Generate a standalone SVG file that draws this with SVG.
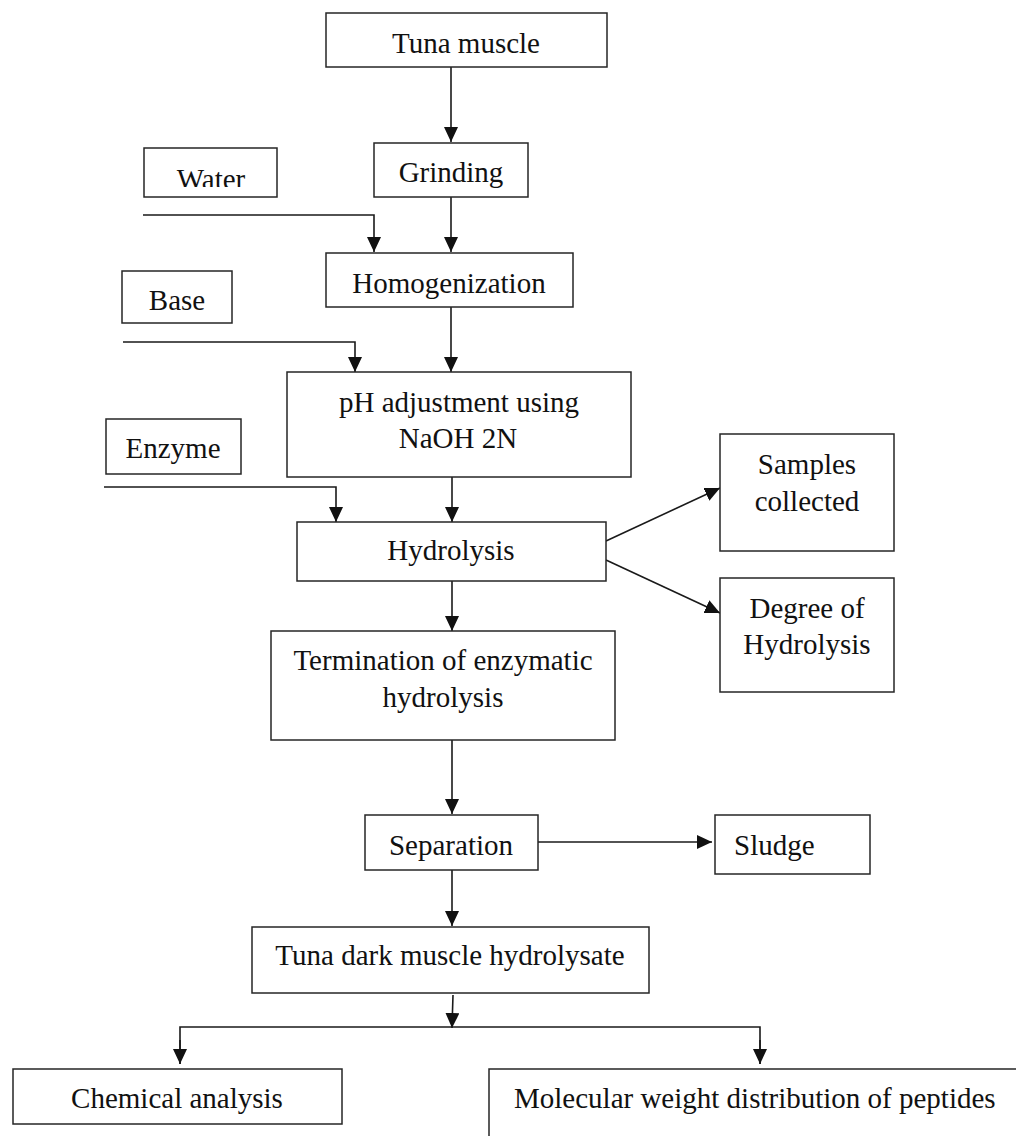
<svg xmlns="http://www.w3.org/2000/svg" width="1016" height="1136" viewBox="0 0 1016 1136">
<style>
.box{fill:#fff;stroke:#262626;stroke-width:1.5}
.t{font-family:"Liberation Serif","Times New Roman",serif;font-size:29px;fill:#111;text-anchor:middle}
.tl{text-anchor:start}
.c{fill:none;stroke:#1a1a1a;stroke-width:1.6}
</style>
<defs>
<marker id="ah" markerUnits="userSpaceOnUse" markerWidth="16" markerHeight="14" refX="15" refY="7" orient="auto">
<path d="M0,0 L15,7 L0,14 Z" fill="#111"/>
</marker>
<clipPath id="wclip"><rect x="144" y="148" width="134" height="39"/></clipPath>
</defs>
<rect width="1016" height="1136" fill="#fff"/>
<g id="connectors">
<line class="c" x1="451" y1="67" x2="451" y2="142" marker-end="url(#ah)"/>
<line class="c" x1="451" y1="197" x2="451" y2="252" marker-end="url(#ah)"/>
<polyline class="c" points="143,215 374,215 374,252" marker-end="url(#ah)"/>
<line class="c" x1="451" y1="307" x2="451" y2="372" marker-end="url(#ah)"/>
<polyline class="c" points="123,342 355,342 355,372" marker-end="url(#ah)"/>
<line class="c" x1="452" y1="477" x2="452" y2="522" marker-end="url(#ah)"/>
<polyline class="c" points="104,487 336,487 336,522" marker-end="url(#ah)"/>
<line class="c" x1="606" y1="541" x2="720" y2="488" marker-end="url(#ah)"/>
<line class="c" x1="606" y1="560" x2="720" y2="613" marker-end="url(#ah)"/>
<line class="c" x1="452" y1="579" x2="452" y2="631" marker-end="url(#ah)"/>
<line class="c" x1="452" y1="740" x2="452" y2="814" marker-end="url(#ah)"/>
<line class="c" x1="538" y1="842" x2="712" y2="842" stroke-width="2.6" marker-end="url(#ah)"/>
<line class="c" x1="452" y1="870" x2="452" y2="926" marker-end="url(#ah)"/>
<line class="c" x1="453" y1="995" x2="452" y2="1028" marker-end="url(#ah)"/>
<polyline class="c" points="180,1064 180,1027 760,1027 760,1064" fill="none"/>
<line class="c" x1="180" y1="1040" x2="180" y2="1064" marker-end="url(#ah)"/>
<line class="c" x1="760" y1="1040" x2="760" y2="1064" marker-end="url(#ah)"/>
</g>
<g id="n-tuna"><rect class="box" x="326" y="13" width="281" height="54"/><text class="t" x="466" y="53">Tuna muscle</text></g>
<g id="n-grinding"><rect class="box" x="374" y="143" width="154" height="54"/><text class="t" x="451" y="182">Grinding</text></g>
<g id="n-water"><rect class="box" x="144" y="148" width="133" height="49"/><text class="t" x="211" y="189" clip-path="url(#wclip)">Water</text></g>
<g id="n-homog"><rect class="box" x="326" y="253" width="247" height="54"/><text class="t" x="449" y="293">Homogenization</text></g>
<g id="n-base"><rect class="box" x="122" y="271" width="110" height="52"/><text class="t" x="177" y="310">Base</text></g>
<g id="n-ph"><rect class="box" x="287" y="372" width="344" height="105"/><text class="t" x="459" y="412">pH adjustment using</text><text class="t" x="458" y="448">NaOH 2N</text></g>
<g id="n-enzyme"><rect class="box" x="106" y="419" width="135" height="55"/><text class="t" x="173" y="458">Enzyme</text></g>
<g id="n-hydrolysis"><rect class="box" x="297" y="522" width="309" height="59"/><text class="t" x="451" y="560">Hydrolysis</text></g>
<g id="n-samples"><rect class="box" x="720" y="434" width="174" height="117"/><text class="t" x="807" y="474">Samples</text><text class="t" x="807" y="511">collected</text></g>
<g id="n-degree"><rect class="box" x="720" y="578" width="174" height="114"/><text class="t" x="807" y="618">Degree of</text><text class="t" x="807" y="654">Hydrolysis</text></g>
<g id="n-termination"><rect class="box" x="271" y="631" width="344" height="109"/><text class="t" x="443" y="670">Termination of enzymatic</text><text class="t" x="443" y="707">hydrolysis</text></g>
<g id="n-separation"><rect class="box" x="365" y="815" width="173" height="55"/><text class="t" x="451" y="855">Separation</text></g>
<g id="n-sludge"><rect class="box" x="715" y="815" width="155" height="59"/><text class="t tl" x="734" y="855">Sludge</text></g>
<g id="n-tdmh"><rect class="box" x="252" y="927" width="397" height="66"/><text class="t" x="450" y="965">Tuna dark muscle hydrolysate</text></g>
<g id="n-chem"><rect class="box" x="13" y="1069" width="329" height="55"/><text class="t" x="177" y="1108">Chemical analysis</text></g>
<g id="n-mw"><rect class="box" x="489" y="1069" width="600" height="120"/><text class="t tl" x="514" y="1108">Molecular weight distribution of peptides</text></g>
</svg>
